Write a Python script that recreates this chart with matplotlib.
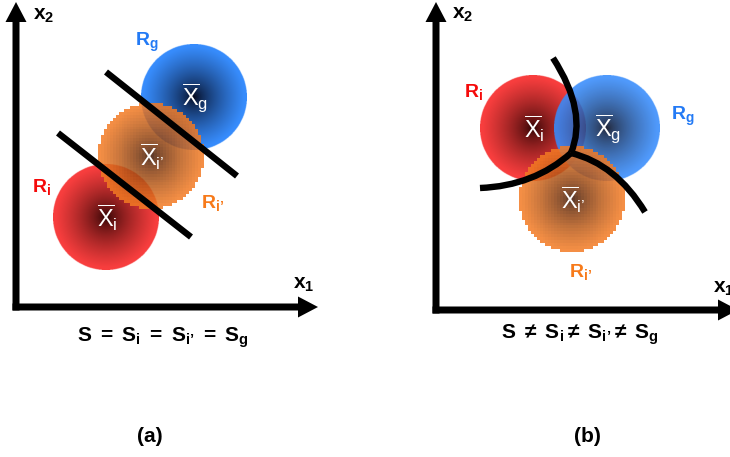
import numpy as np
import matplotlib
matplotlib.use('Agg')
import matplotlib.pyplot as plt
from matplotlib import font_manager
from matplotlib.path import Path
from matplotlib.patches import PathPatch, FancyArrow

installed = {f.name for f in font_manager.fontManager.ttflist}
narrow = 'Liberation Sans Narrow' if 'Liberation Sans Narrow' in installed else 'Liberation Sans'

plt.rcParams['font.family'] = 'Liberation Sans'
plt.rcParams['mathtext.fontset'] = 'custom'
plt.rcParams['mathtext.rm'] = narrow
plt.rcParams['mathtext.it'] = narrow + ':italic'
plt.rcParams['mathtext.bf'] = 'Liberation Sans:bold'

IP = 'i\u2019'  # i-prime subscript

# region names and colours
edge_cols = {'g': (55, 140, 252), 'i': (248, 62, 62), IP: (242, 122, 35)}
core_cols = {'g': (0, 0, 15), 'i': (35, 0, 0), IP: (45, 12, 0)}
label_cols = {'g': '#237af5', 'i': '#f50a0a', IP: '#f77a1a'}
radius = 53

# panel (a): centres in pixel units, drawing order blue, red, orange
a_order = ['g', 'i', IP]
a_cx = [194, 106, 151]
a_cy = [97, 217, 156]
a_alpha = [1.0, 1.0, 0.85]
a_lab_x = [147, 42, 213]
a_lab_y = [42, 187, 203]

# panel (b)
b_order = ['i', 'g', IP]
b_cx = [533, 607, 572]
b_cy = [128, 128, 199]
b_alpha = [1.0, 0.88, 0.85]
b_lab_x = [474, 683, 581]
b_lab_y = [92, 116, 272]

# separating lines in (a)
a_lines = [((106, 72), (237, 176)), ((58, 133), (191, 237))]
# curved borders in (b): start, control, end
b_junction = (571, 153)
b_curves = [((588, 112), (553, 58)), ((534, 186), (480, 188)), ((616, 164), (645, 212))]


def disc(name, n, alpha):
    t = (np.arange(n) + 0.5) / n * 2 - 1
    xx, yy = np.meshgrid(t, t)
    r = np.sqrt(xx**2 + yy**2)
    s = np.clip(r * 1.05, 0, 1) ** 0.65
    e = np.array(edge_cols[name]) / 255
    c = np.array(core_cols[name]) / 255
    img = np.zeros((n, n, 4))
    for k in range(3):
        img[..., k] = c[k] + (e[k] - c[k]) * s
    img[..., 3] = np.where(r <= 1, alpha, 0)
    return img


fig = plt.figure(figsize=(7.3, 4.57), dpi=100)
ax = fig.add_axes([0, 0, 1, 1])

for order, cx, cy, al, lx, ly in [(a_order, a_cx, a_cy, a_alpha, a_lab_x, a_lab_y),
                                  (b_order, b_cx, b_cy, b_alpha, b_lab_x, b_lab_y)]:
    for name, x, y, a, tx, ty in zip(order, cx, cy, al, lx, ly):
        blocky = name == IP
        n = 36 if blocky else 300
        ax.imshow(disc(name, n, a), extent=(x - radius, x + radius, y + radius, y - radius),
                  interpolation='nearest' if blocky else 'bilinear', zorder=2)
        ax.text(x + 1, y + 1, r'$\overline{\mathrm{X}}_{\mathrm{%s}}$' % name, color='white',
                fontsize=17, ha='center', va='center', zorder=6)
        ax.text(tx, ty, r'$\mathbf{R}_{\mathbf{%s}}$' % name, color=label_cols[name],
                fontsize=14, ha='center', va='center', zorder=6)

for p0, p1 in a_lines:
    ax.plot([p0[0], p1[0]], [p0[1], p1[1]], color='k', lw=4.6, solid_capstyle='butt', zorder=4)

for ctrl, end in b_curves:
    path = Path([b_junction, ctrl, end], [Path.MOVETO, Path.CURVE3, Path.CURVE3])
    ax.add_patch(PathPatch(path, fill=False, lw=4.6, color='k', zorder=4))

# axes arrows
for x0, y0 in [(16, 307), (436, 310)]:
    ax.add_patch(FancyArrow(x0, y0 + 3.5, 0, -(y0 + 1.5), width=7, head_width=21, head_length=20,
                            length_includes_head=True, color='k', lw=0, zorder=3))
    ax.add_patch(FancyArrow(x0 - 3.5, y0, 305.5, 0, width=7, head_width=21, head_length=20,
                            length_includes_head=True, color='k', lw=0, zorder=3))

ax.text(33, 16, r'$\mathbf{x}_{\mathbf{2}}$', fontsize=15, ha='left', va='center')
ax.text(293, 285, r'$\mathbf{x}_{\mathbf{1}}$', fontsize=15, ha='left', va='center')
ax.text(452, 15, r'$\mathbf{x}_{\mathbf{2}}$', fontsize=15, ha='left', va='center')
ax.text(713, 288, r'$\mathbf{x}_{\mathbf{1}}$', fontsize=15, ha='left', va='center')

eq_a = r'$\mathbf{S\ =\ S_{i}\ =\ S_{%s}\ =\ S_{g}}$' % IP
eq_b = r'$\mathbf{S\ \neq\ S_{i}\neq\ S_{%s}\neq\ S_{g}}$' % IP
ax.text(163, 338, eq_a, fontsize=15, ha='center', va='center')
ax.text(580, 335, eq_b, fontsize=15, ha='center', va='center')

ax.text(150, 437, '(a)', fontsize=15, fontweight='bold', ha='center', va='center')
ax.text(587, 437, '(b)', fontsize=15, fontweight='bold', ha='center', va='center')

ax.set_xlim(0, 730)
ax.set_ylim(457, 0)
ax.set_aspect('auto')
ax.axis('off')
fig.savefig('out.png', dpi=100)
